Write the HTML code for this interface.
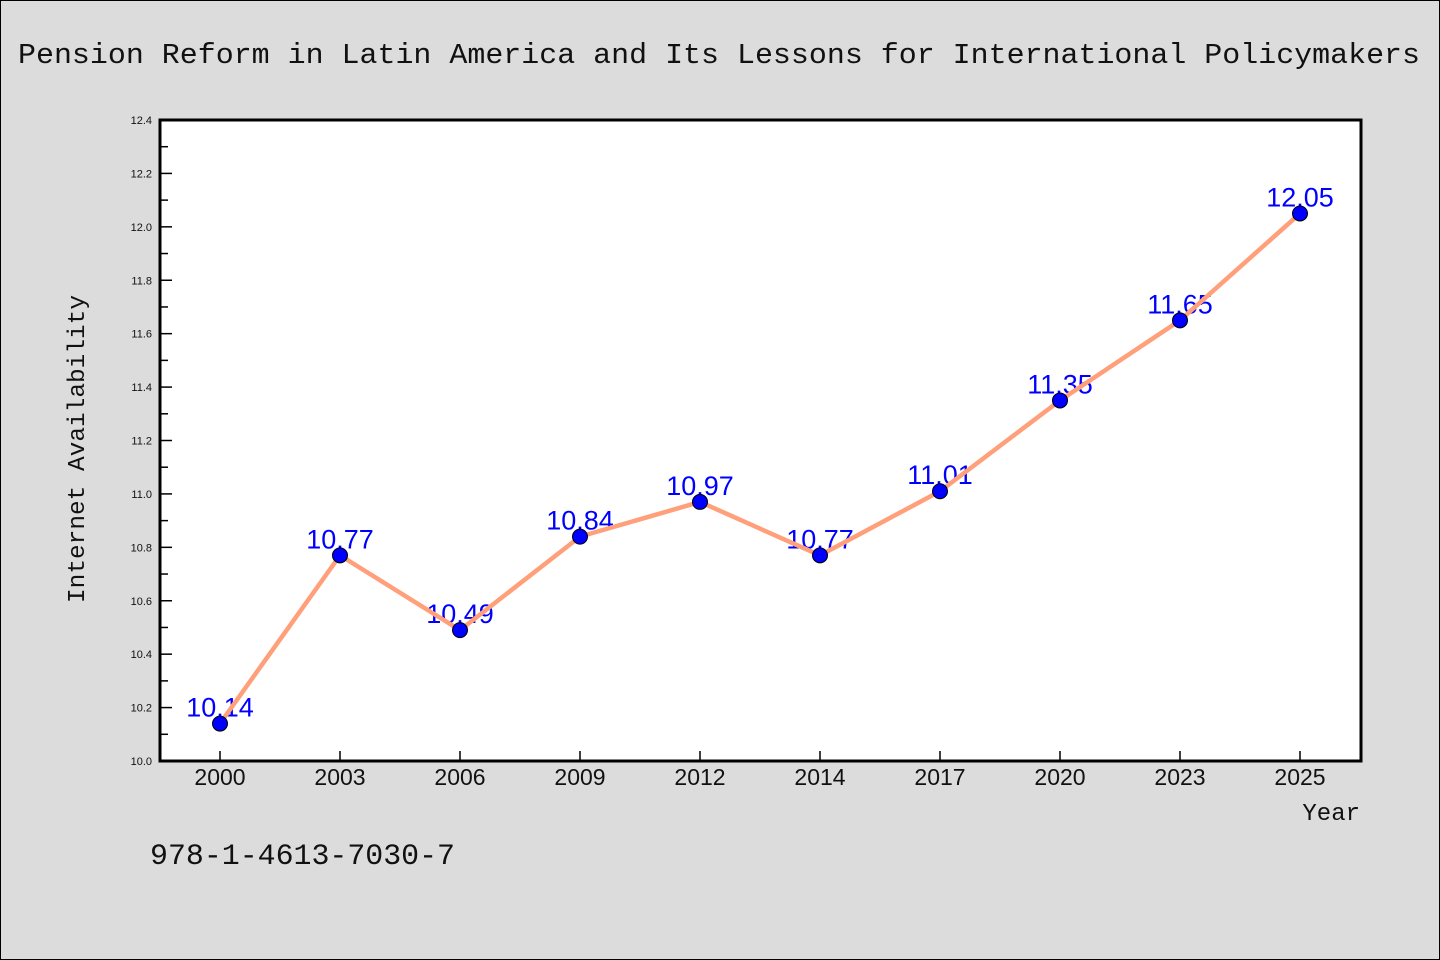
<!DOCTYPE html>
<html><head><meta charset="utf-8"><style>
body{margin:0;background:#dcdcdc;}
svg{display:block;font-family:"Liberation Sans",sans-serif;}
.mono{font-family:"Liberation Mono",monospace;}
</style></head><body>
<svg id="c" width="1440" height="960">
<rect x="0.5" y="0.5" width="1439" height="959" fill="#dcdcdc" stroke="#000"/>
<text class="mono" x="18" y="63" font-size="29" textLength="1402" lengthAdjust="spacingAndGlyphs" fill="#111">Pension Reform in Latin America and Its Lessons for International Policymakers</text>
<rect x="160" y="120" width="1201" height="641" fill="#fff"/>
<g id="ticks"></g>
<g id="labels"></g>
<g id="series"></g>
<rect x="160" y="120" width="1201" height="641" fill="none" stroke="#000" stroke-width="3"/>
<text class="mono" x="84" y="449" font-size="24" textLength="308" lengthAdjust="spacingAndGlyphs" text-anchor="middle" fill="#111" transform="rotate(-90 84 449)">Internet Availability</text>
<text class="mono" x="1360" y="820" font-size="24" text-anchor="end" fill="#111">Year</text>
<text class="mono" x="150" y="864" font-size="30" textLength="305" lengthAdjust="spacingAndGlyphs" fill="#111">978-1-4613-7030-7</text>
</svg>
<script>
const years=["2000","2003","2006","2009","2012","2014","2017","2020","2023","2025"];
const values=[10.14,10.77,10.49,10.84,10.97,10.77,11.01,11.35,11.65,12.05];
const yTicks=[10.0,10.2,10.4,10.6,10.8,11.0,11.2,11.4,11.6,11.8,12.0,12.2,12.4];
const NS="http://www.w3.org/2000/svg";
const yMin=10.0,yMax=12.4,plotTop=120,plotBottom=761;
const yScale=v=>plotBottom-(v-yMin)/(yMax-yMin)*(plotBottom-plotTop);
const xScale=i=>220+i*120;
function mk(t,a,p){const e=document.createElementNS(NS,t);for(const k in a)e.setAttribute(k,a[k]);p.appendChild(e);return e;}
const T=document.getElementById('ticks'),L=document.getElementById('labels'),S=document.getElementById('series');
yTicks.forEach((v,i)=>{
  const t=mk('line',{x1:160,x2:172,y1:yScale(v),y2:yScale(v),stroke:'#000','stroke-width':1.5},T);
  
  
  if(i<yTicks.length-1){const m=mk('line',{x1:160,x2:168,y1:yScale(v+0.1),y2:yScale(v+0.1),stroke:'#000','stroke-width':1.5},T);
  
  }
  const l=mk('text',{x:152,y:yScale(v)+4,'font-size':11,'text-anchor':'end',fill:'#111'},T);
  l.textContent=v.toFixed(1);
  
  
});
years.forEach((yr,i)=>{
  const t=mk('line',{x1:xScale(i),x2:xScale(i),y1:761,y2:751,stroke:'#000','stroke-width':1.5},T);
  
  
  const l=mk('text',{x:xScale(i),y:785,'font-size':23,'text-anchor':'middle',fill:'#111'},T);
  l.textContent=yr;
  
  
  const d=mk('text',{x:xScale(i),y:yScale(values[i])-7,'font-size':27,'text-anchor':'middle',fill:'#0000ff'},L);
  d.textContent=values[i].toFixed(2);
  
  
});
const pl=mk('polyline',{points:values.map((v,i)=>xScale(i)+','+yScale(v)).join(' '),fill:'none',stroke:'#ffa07a','stroke-width':4.5},S);


values.forEach((v,i)=>{
  const c=mk('circle',{cx:xScale(i),cy:yScale(v),r:7.5,fill:'#0000ff',stroke:'#000','stroke-width':1},S);
  
  
});
</script>
</body></html>
